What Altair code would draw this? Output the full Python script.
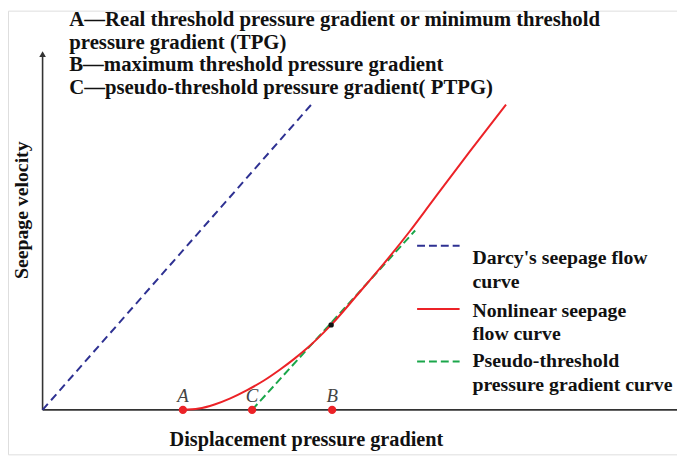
import altair as alt
import pandas as pd

# chart units: origin of the two axes is (0, 0)
darcy_x = [0, 272]
darcy_y = [0, 309]

nonlin_x = [142, 158, 174, 190, 207, 224, 240, 254, 267, 279, 292, 319, 347, 371, 395, 432, 469]
nonlin_y = [0, 1.3, 5.5, 11.7, 20, 29.7, 40.6, 51.1, 61.8, 72.9, 86, 117, 150, 180, 212, 261, 309]

pseudo_x = [212, 377]
pseudo_y = [0, 181.5]

point_names = ["A", "C", "B"]
point_x = [142, 212, 293]
tangent_x = [292]
tangent_y = [86]

header_lines = [
    "A\u2014Real threshold pressure gradient or minimum threshold",
    "pressure gradient (TPG)",
    "B\u2014maximum threshold pressure gradient",
    "C\u2014pseudo-threshold pressure gradient( PTPG)",
]
legend_lines = [
    "Darcy's seepage flow", "curve",
    "Nonlinear seepage", "flow curve",
    "Pseudo-threshold", "pressure gradient curve",
]
x_title = "Displacement pressure gradient"
y_title = "Seepage velocity"

XD = [-35, 642]
YD = [-45, 404]
xs = alt.Scale(domain=XD, nice=False, zero=False)
ys = alt.Scale(domain=YD, nice=False, zero=False)
X = lambda f="x": alt.X(f"{f}:Q", scale=xs, axis=None)
Y = lambda f="y": alt.Y(f"{f}:Q", scale=ys, axis=None)

SERIF = "Liberation Serif"
BLUE = "#2e3192"
RED = "#ec2227"
GREEN = "#1aa64a"
AX = "#333333"
INK = "#111111"

# axes
axes_df = pd.DataFrame({"x": [0, 0], "y": [0, 0], "x2": [0, 642], "y2": [358, 0]})
axes = alt.Chart(axes_df).mark_rule(color=AX, strokeWidth=1.6).encode(
    x=X(), y=Y(), x2="x2:Q", y2="y2:Q")
arrow = alt.Chart(pd.DataFrame({"x": [0], "y": [360]})).mark_point(
    shape="triangle-up", filled=True, color=AX, size=45, opacity=1).encode(x=X(), y=Y())

darcy = alt.Chart(pd.DataFrame({"x": darcy_x, "y": darcy_y})).mark_line(
    color=BLUE, strokeWidth=2, strokeDash=[8, 5]).encode(x=X(), y=Y())
pseudo = alt.Chart(pd.DataFrame({"x": pseudo_x, "y": pseudo_y})).mark_line(
    color=GREEN, strokeWidth=2, strokeDash=[8, 4]).encode(x=X(), y=Y())
nonlin = alt.Chart(pd.DataFrame({"x": nonlin_x, "y": nonlin_y})).mark_line(
    color=RED, strokeWidth=2, interpolate="monotone").encode(x=X(), y=Y())

pts_df = pd.DataFrame({"x": point_x, "y": [0] * 3, "name": point_names})
pts = alt.Chart(pts_df).mark_circle(color=RED, size=70, opacity=1).encode(x=X(), y=Y())
pt_labels = alt.Chart(pts_df).mark_text(
    font=SERIF, fontStyle="italic", fontSize=19, color="#444444", dy=-14).encode(
    x=X(), y=Y(), text="name:N")
tangent = alt.Chart(pd.DataFrame({"x": tangent_x, "y": tangent_y})).mark_circle(
    color=INK, size=30, opacity=1).encode(x=X(), y=Y())

head_df = pd.DataFrame({"x": [27] * 4, "y": [394, 371, 349, 326], "t": header_lines})
header = alt.Chart(head_df).mark_text(
    font=SERIF, fontWeight="bold", fontSize=21, align="left", baseline="middle",
    color=INK).encode(x=X(), y=Y(), text="t:N")

leg_sample = pd.DataFrame({"x": [379, 379, 379], "x2": [422, 422, 422], "y": [166, 102, 49]})
leg_d = alt.Chart(leg_sample.iloc[[0]]).mark_rule(color=BLUE, strokeWidth=2, strokeDash=[8, 4]).encode(
    x=X(), x2="x2:Q", y=Y())
leg_n = alt.Chart(leg_sample.iloc[[1]]).mark_rule(color=RED, strokeWidth=2).encode(
    x=X(), x2="x2:Q", y=Y())
leg_p = alt.Chart(leg_sample.iloc[[2]]).mark_rule(color=GREEN, strokeWidth=2, strokeDash=[8, 4]).encode(
    x=X(), x2="x2:Q", y=Y())
leg_txt_df = pd.DataFrame({"x": [435] * 6, "y": [154, 129, 100, 77, 49, 25], "t": legend_lines})
leg_txt = alt.Chart(leg_txt_df).mark_text(
    font=SERIF, fontWeight="bold", fontSize=20, align="left", baseline="middle",
    color=INK).encode(x=X(), y=Y(), text="t:N")

xt = alt.Chart(pd.DataFrame({"x": [267], "y": [-31], "t": [x_title]})).mark_text(
    font=SERIF, fontWeight="bold", fontSize=20.5, baseline="middle", color=INK).encode(
    x=X(), y=Y(), text="t:N")
yt = alt.Chart(pd.DataFrame({"x": [-21], "y": [202], "t": [y_title]})).mark_text(
    font=SERIF, fontWeight="bold", fontSize=20, baseline="middle", angle=270, color=INK).encode(
    x=X(), y=Y(), text="t:N")

chart = alt.layer(
    axes, arrow, darcy, pseudo, nonlin, pts, tangent, pt_labels,
    header, leg_d, leg_n, leg_p, leg_txt, xt, yt
).properties(
    width=677, height=449, padding=0, autosize=alt.AutoSizeParams(type="none")
).configure_view(stroke=None).configure(background="white")

chart.save("out.html", embed_options={"renderer": "svg", "actions": False})
